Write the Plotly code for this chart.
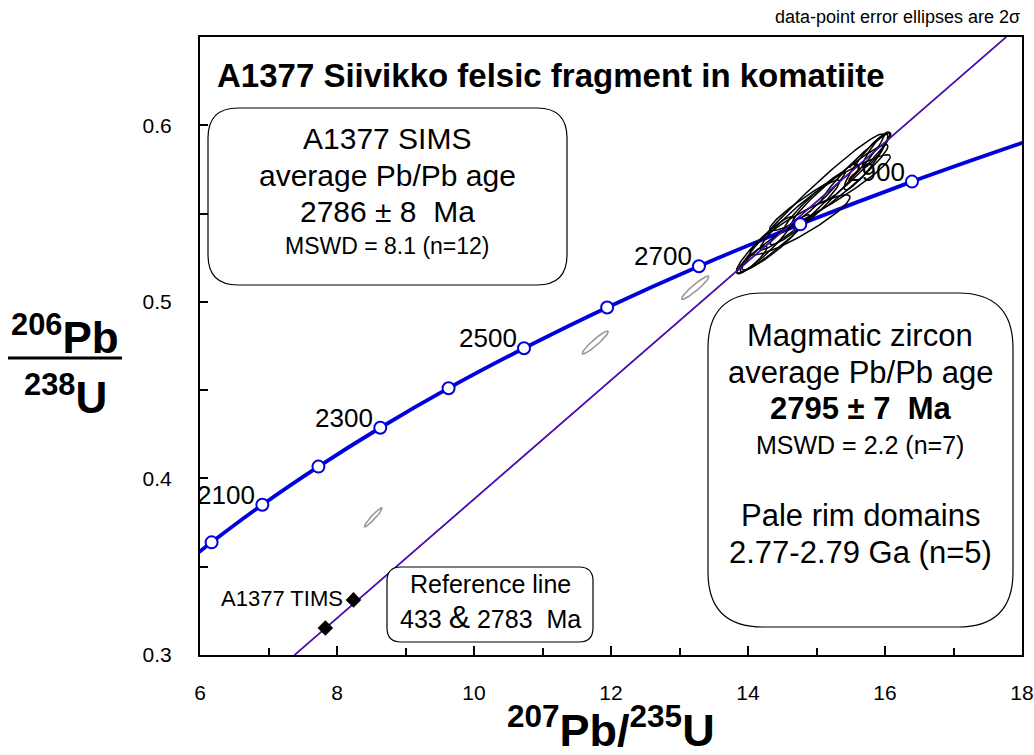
import numpy as np
import plotly.graph_objects as go

# ---------------- data ----------------
# Concordia reference points (age in Ma, 207Pb/235U, 206Pb/238U)
conc_age = [1950, 2000, 2100, 2200, 2300, 2400, 2500, 2600, 2700, 2800, 2900, 3000]
conc_x = [5.824, 6.169, 6.910, 7.729, 8.632, 9.629, 10.730, 11.944, 13.284, 14.763, 16.394, 18.193]
conc_y = [0.3532, 0.3638, 0.3851, 0.4067, 0.4287, 0.4511, 0.4737, 0.4968, 0.5202, 0.5439, 0.5681, 0.5926]
marker_ages = [2000, 2100, 2200, 2300, 2400, 2500, 2600, 2700, 2800, 2900]
label_ages = [2100, 2300, 2500, 2700, 2900]

# Reference (discordia) line 433 & 2783 Ma
ref_x = [7.38, 17.77]
ref_y = [0.300, 0.650]

# TIMS analyses
tims_x = [7.83, 8.24]
tims_y = [0.3153, 0.3312]

# SIMS ellipses: centre x, centre y, half-width x, half-height y, correlation
grey_cx = [8.53, 11.77, 13.23]
grey_cy = [0.378, 0.477, 0.508]
grey_sx = [0.13, 0.19, 0.20]
grey_sy = [0.0054, 0.0065, 0.0066]
grey_rho = [0.95, 0.94, 0.94]

black_cx = [14.934, 15.343, 15.723, 14.759, 14.321, 14.058, 14.978, 15.197, 14.759, 15.577, 14.613, 15.869, 14.25]
black_cy = [0.5561, 0.5663, 0.5793, 0.5493, 0.5306, 0.5238, 0.5578, 0.5618, 0.5436, 0.5759, 0.5408, 0.5861, 0.5323]
black_sx = [1.05, 0.70, 0.32, 0.58, 0.41, 0.22, 0.44, 0.88, 0.73, 0.51, 0.29, 0.20, 0.42]
black_sy = [0.0390, 0.0227, 0.0159, 0.0198, 0.0125, 0.0079, 0.0159, 0.0215, 0.0170, 0.0198, 0.0085, 0.0102, 0.0160]
black_rho = [0.975, 0.96, 0.92, 0.955, 0.93, 0.90, 0.97, 0.95, 0.92, 0.97, 0.93, 0.90, 0.93]

x_ticks = [6, 8, 10, 12, 14, 16, 18]
y_ticks = [0.3, 0.4, 0.5, 0.6]

# ---------------- layout geometry ----------------
W, H = 1034, 755
L, R, T, B = 200, 1022, 37, 655
X0, X1, Y0, Y1 = 6, 18, 0.3, 0.65
FONT = "Liberation Sans, Arial, Helvetica, sans-serif"


def px2x(px):
    return X0 + (px - L) / (R - L) * (X1 - X0)


def py2y(py):
    return Y0 + (B - py) / (B - T) * (Y1 - Y0)


def ppx(px):
    return (px - L) / (R - L)


def ppy(py):
    return (B - py) / (B - T)


def ellipse_path(cx, cy, sx, sy, rho):
    xs, ys = [], []
    t = np.linspace(0, 2 * np.pi, 160)
    for a, b, c, d, r in zip(cx, cy, sx, sy, rho):
        xs += list(a + c * np.cos(t)) + [None]
        ys += list(b + d * (r * np.cos(t) + np.sqrt(1 - r * r) * np.sin(t))) + [None]
    return xs, ys


def rrect(x0, y0, x1, y1, r):
    # rounded rectangle in pixel coords -> data path
    def P(px, py):
        return f"{px2x(px):.5f},{py2y(py):.5f}"
    return (f"M{P(x0 + r, y0)} L{P(x1 - r, y0)} Q{P(x1, y0)} {P(x1, y0 + r)} "
            f"L{P(x1, y1 - r)} Q{P(x1, y1)} {P(x1 - r, y1)} L{P(x0 + r, y1)} "
            f"Q{P(x0, y1)} {P(x0, y1 - r)} L{P(x0, y0 + r)} Q{P(x0, y0)} {P(x0 + r, y0)} Z")


fig = go.Figure()

# grey ellipses
gx, gy = ellipse_path(grey_cx, grey_cy, grey_sx, grey_sy, grey_rho)
fig.add_trace(go.Scatter(x=gx, y=gy, mode="lines", line=dict(color="#999999", width=1.6),
                         hoverinfo="skip", showlegend=False))
# reference line
fig.add_trace(go.Scatter(x=ref_x, y=ref_y, mode="lines", line=dict(color="#5010b0", width=1.6),
                         hoverinfo="skip", showlegend=False))
# concordia curve
fig.add_trace(go.Scatter(x=conc_x, y=conc_y, mode="lines",
                         line=dict(color="#0000dd", width=3.8, shape="spline", smoothing=1.0),
                         hoverinfo="skip", showlegend=False))
# black ellipses
bx, by = ellipse_path(black_cx, black_cy, black_sx, black_sy, black_rho)
fig.add_trace(go.Scatter(x=bx, y=by, mode="lines", line=dict(color="black", width=1.5),
                         hoverinfo="skip", showlegend=False))
# reference line over ellipses (thin)
fig.add_trace(go.Scatter(x=ref_x, y=ref_y, mode="lines", line=dict(color="#5010b0", width=1.4),
                         hoverinfo="skip", showlegend=False))
# age markers
mx = [conc_x[conc_age.index(a)] for a in marker_ages]
my = [conc_y[conc_age.index(a)] for a in marker_ages]
fig.add_trace(go.Scatter(x=mx, y=my, mode="markers",
                         marker=dict(symbol="circle", size=12, color="white",
                                     line=dict(color="#0000dd", width=2)),
                         hoverinfo="skip", showlegend=False, cliponaxis=False))
# TIMS
fig.add_trace(go.Scatter(x=tims_x, y=tims_y, mode="markers",
                         marker=dict(symbol="diamond", size=12, color="black"),
                         hoverinfo="skip", showlegend=False))

ann = []
# age labels
for a in label_ages:
    i = conc_age.index(a)
    ann.append(dict(x=conc_x[i], y=conc_y[i], xref="x", yref="y", text=str(a), showarrow=False,
                    xanchor="right", yanchor="middle", xshift=-5, yshift=10,
                    font=dict(family=FONT, size=26, color="black")))

# title
ann.append(dict(x=ppx(215), y=ppy(76), xref="paper", yref="paper",
                text="<b>A1377 Siivikko felsic fragment in komatiite</b>", showarrow=False,
                xanchor="left", yanchor="middle", font=dict(family=FONT, size=33, color="black")))
# top-right note
ann.append(dict(x=ppx(1022), y=ppy(17), xref="paper", yref="paper",
                text="data-point error ellipses are 2σ", showarrow=False,
                xanchor="right", yanchor="middle", font=dict(family=FONT, size=18, color="black")))


def line_text(cx, cy, text, size):
    ann.append(dict(x=ppx(cx), y=ppy(cy), xref="paper", yref="paper", text=text, showarrow=False,
                    xanchor="center", yanchor="middle", font=dict(family=FONT, size=size, color="black")))


# box 1
line_text(387, 138, "A1377 SIMS", 30)
line_text(387, 175, "average Pb/Pb age", 30)
line_text(387, 211, "2786 ± 8  Ma", 30)
line_text(387, 246, "MSWD = 8.1 (n=12)", 23)
# box 2
line_text(860, 335, "Magmatic zircon", 31)
line_text(860, 372, "average Pb/Pb age", 31)
line_text(860, 408, "<b>2795 ± 7  Ma</b>", 31)
line_text(860, 445, "MSWD = 2.2 (n=7)", 25)
line_text(860, 515, "Pale rim domains", 31)
line_text(860, 552, "2.77-2.79 Ga (n=5)", 31)
# box 3
line_text(490, 584, "Reference line", 25)
line_text(490, 617, "433 <span style='font-size:32px'>&</span> 2783  Ma", 25)
# TIMS label
ann.append(dict(x=ppx(345), y=ppy(598), xref="paper", yref="paper", text="A1377 TIMS", showarrow=False,
                xanchor="right", yanchor="middle", font=dict(family=FONT, size=22, color="black")))

# axis titles
ann.append(dict(x=ppx(65), y=ppy(334), xref="paper", yref="paper",
                text="<b><sup>206</sup>Pb</b>", showarrow=False, xanchor="center", yanchor="middle",
                font=dict(family=FONT, size=44, color="black")))
ann.append(dict(x=ppx(65), y=ppy(394), xref="paper", yref="paper",
                text="<b><sup>238</sup>U</b>", showarrow=False, xanchor="center", yanchor="middle",
                font=dict(family=FONT, size=44, color="black")))
ann.append(dict(x=ppx(611), y=ppy(727), xref="paper", yref="paper",
                text="<b><sup>207</sup>Pb/<sup>235</sup>U</b>", showarrow=False, xanchor="center",
                yanchor="middle", font=dict(family=FONT, size=45, color="black")))

shapes = [
    dict(type="path", xref="x", yref="y", path=rrect(208, 108, 567, 285, 30),
         line=dict(color="black", width=1.2), fillcolor="rgba(0,0,0,0)", layer="above"),
    dict(type="path", xref="x", yref="y", path=rrect(708, 293, 1013, 627, 55),
         line=dict(color="black", width=1.2), fillcolor="rgba(0,0,0,0)", layer="above"),
    dict(type="path", xref="x", yref="y", path=rrect(387, 567, 593, 642, 14),
         line=dict(color="black", width=1.2), fillcolor="rgba(255,255,255,1)", layer="above"),
    dict(type="line", xref="paper", yref="paper", x0=ppx(8), x1=ppx(122), y0=ppy(358), y1=ppy(358),
         line=dict(color="black", width=3)),
]

fig.update_layout(
    width=W, height=H,
    margin=dict(l=L, r=W - R, t=T, b=H - B, autoexpand=False),
    paper_bgcolor="white", plot_bgcolor="white",
    annotations=ann, shapes=shapes, showlegend=False,
    xaxis=dict(range=[X0, X1], tickvals=x_ticks, ticktext=[str(v) for v in x_ticks],
               ticks="inside", ticklen=9, tickwidth=1.5, tickcolor="black", automargin=False,
               minor=dict(dtick=1, tick0=0, ticks="inside", ticklen=7, tickwidth=1.5, tickcolor="black"),
               showline=True, linecolor="black", linewidth=2, mirror=True, showgrid=False,
               zeroline=False, ticklabelstandoff=18,
               tickfont=dict(family=FONT, size=21, color="black")),
    yaxis=dict(range=[Y0, Y1], tickvals=y_ticks, ticktext=[f"{v:.1f}" for v in y_ticks],
               ticks="inside", ticklen=8, tickwidth=1.5, tickcolor="black", automargin=False,
               minor=dict(dtick=0.05, tick0=0, ticks="inside", ticklen=8, tickwidth=1.5, tickcolor="black"),
               showline=True, linecolor="black", linewidth=2, mirror=True, showgrid=False,
               zeroline=False, ticklabelstandoff=22,
               tickfont=dict(family=FONT, size=21, color="black")),
)

fig.write_html("out.html")
